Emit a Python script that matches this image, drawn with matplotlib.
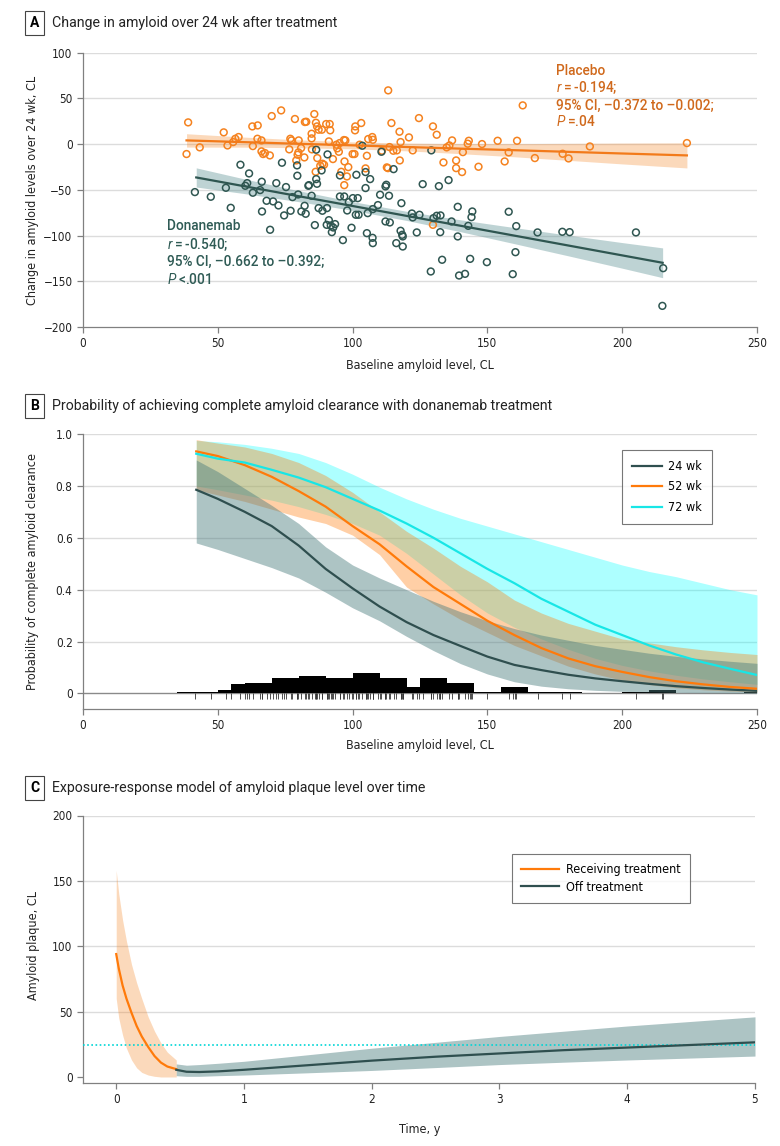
import matplotlib
matplotlib.use('Agg')
import matplotlib.pyplot as plt

plt.rcParams['mathtext.fontset'] = 'custom'
plt.rcParams['mathtext.rm'] = 'Roboto'
plt.rcParams['mathtext.it'] = 'Roboto:italic'
plt.rcParams['mathtext.bf'] = 'Roboto:bold'

TITLEF = ['Roboto', 'DejaVu Sans']
TICKF = dict(family='DejaVu Sans', stretch='condensed', size=8.5)

# ---------------- Panel A data ----------------
pl_bx = [39.0, 38.4, 43.3, 52.2, 53.6, 55.7, 56.5, 57.7, 62.8, 63.0, 64.7, 64.8, 66.2, 66.2, 66.8, 67.5,
         69.3, 70.0, 73.5, 76.5, 76.9, 77.3, 78.6, 79.1, 79.6, 80.0, 79.9, 80.9, 82.1, 82.3, 82.8, 84.8,
         84.8, 84.9, 85.8, 86.4, 86.8, 86.9, 87.4, 86.3, 88.0, 88.8, 89.4, 88.6, 90.2, 91.5, 91.7, 91.2,
         92.7, 94.0, 94.3, 94.9, 95.2, 95.8, 96.8, 97.3, 97.0, 97.9, 98.4, 96.9, 100.0, 100.7, 100.9, 101.0,
         102.6, 103.2, 104.8, 105.3, 105.8, 107.3, 107.5, 110.9, 112.7, 113.1, 113.2, 114.4, 113.7, 115.1,
         116.4, 117.4, 117.5, 117.8, 120.9, 122.3, 124.6, 129.8, 131.2, 133.7, 134.9, 135.9, 136.9, 138.4,
         138.4, 140.6, 140.9, 142.7, 143.1, 146.7, 148.0, 153.8, 157.9, 156.4, 161.0, 163.1, 167.6, 177.9,
         180.1, 188.0, 224.0, 129.8]
pl_chg = [23.7, -10.9, -3.6, 12.8, -1.5, 2.2, 5.8, 7.7, 19.3, -2.2, 5.8, 20.4, 4.0, -8.0, -10.9, -9.8,
          -12.4, 30.6, 36.8, -5.8, 5.8, 4.0, 27.4, -17.9, -11.7, 4.0, -9.1, -4.4, -14.6, 24.1, 24.4, 11.3,
          6.2, -5.8, 32.8, 23.3, 19.3, -15.3, 15.7, -30.3, -23.7, -21.5, -22.6, 15.7, 21.9, 21.9, 15.0, 2.9,
          -16.4, -0.7, -4.7, -8.4, 1.1, -30.3, 4.4, 4.0, -19.0, -35.4, -25.2, -44.9, -10.9, -10.9, 15.0, 19.3,
          -0.7, 23.0, -26.6, -12.8, 5.5, 7.7, 4.7, -7.3, -25.5, -26.3, 58.7, 23.0, -3.3, -7.3,
          -6.9, 13.5, -17.9, 2.2, 7.3, -6.9, 28.4, 19.3, 10.2, -20.1, -3.6, -1.5, 4.0, -17.9,
          -26.3, -30.6, -8.8, 0.4, 3.6, -24.8, 0.0, 3.6, -9.1, -19.0, 3.6, 42.3, -15.3, -10.6,
          -15.7, -2.6, 1.1, -88.3]

dn_bx = [41.5, 47.4, 53.0, 54.8, 58.4, 60.2, 60.9, 61.6, 63.0, 65.7, 66.3, 66.4, 68.1, 69.4, 70.5, 71.7,
         72.5, 73.8, 74.6, 75.3, 77.0, 77.7, 79.4, 79.5, 79.8, 81.0, 82.2, 82.6, 83.6, 83.8, 84.8, 86.0,
         86.5, 86.5, 86.8, 87.4, 88.5, 88.8, 90.4, 90.5, 90.7, 91.2, 91.9, 92.3, 92.8, 93.5, 95.3, 95.3,
         96.4, 96.9, 98.0, 98.6, 99.6, 100.1, 101.2, 101.4, 101.9, 102.2, 103.6, 104.8, 104.8, 105.3, 105.6,
         106.5, 107.5, 107.4, 107.5, 109.4, 110.2, 110.7, 112.2, 112.2, 112.5, 113.8, 113.5, 115.2, 116.2,
         117.8, 118.1, 118.4, 118.6, 118.6, 122.0, 122.3, 123.8, 124.8, 129.2, 126.0, 132.0, 135.6, 129.0,
         133.2, 130.0, 131.2, 132.6, 132.5, 136.7, 139.0, 139.0, 139.5, 141.7, 142.9, 143.6, 144.1, 144.4,
         149.8, 157.9, 159.4, 160.4, 160.7, 168.6, 177.8, 180.5, 205.1, 215.2, 214.9]
dn_chg = [-52.5, -57.6, -47.8, -69.7, -22.6, -45.6, -42.7, -32.1, -53.2, -50.3, -41.2, -73.7, -62.0, -93.7,
          -62.7, -42.7, -67.1, -20.4, -78.0, -47.0, -72.9, -58.0, -23.3, -34.6, -55.1, -73.7, -67.5, -76.2,
          -45.6, -44.9, -56.5, -88.6, -6.2, -38.3, -43.4, -70.0, -28.8, -72.9, -88.3, -70.0, -11.3, -83.2,
          -89.0, -96.3, -91.2, -87.5, -34.3, -57.3, -105.0, -57.3, -72.6, -63.5, -91.5, -59.1, -77.3, -33.6,
          -59.1, -77.3, -1.8, -48.1, -30.6, -97.4, -75.5, -38.3, -71.1, -102.5, -108.3, -66.7, -55.4, -8.4,
          -46.3, -84.6, -44.5, -85.7, -56.5, -27.4, -108.3, -94.8, -64.6, -99.2, -112.0, -101.0, -75.9, -80.2,
          -96.6, -77.3, -6.9, -43.8, -46.0, -39.4, -139.3, -126.5, -81.0, -78.4, -78.0, -96.3, -84.6, -68.6,
          -101.0, -143.7, -141.9, -89.4, -125.5, -79.9, -73.7, -129.1, -74.0, -142.2, -118.2, -89.7, -96.6,
          -95.9, -96.3, -96.6, -135.7, -176.9]

pl_fx = [38.4, 60, 80, 100, 120, 140, 160, 180, 200, 224]
pl_fit = [4.0, 2.1, 0.3, -1.4, -3.2, -5.0, -6.7, -8.5, -10.3, -12.4]
pl_lo = [-3.3, -3.4, -4.0, -5.2, -7.4, -10.5, -13.9, -17.8, -21.7, -26.1]
pl_hi = [11.3, 7.6, 4.6, 2.4, 1.0, 0.5, 0.5, 0.8, 1.1, 1.3]

dn_fx = [42, 60, 80, 100, 120, 140, 160, 180, 200, 215]
dn_fit = [-36.5, -46.2, -57.0, -67.7, -78.5, -89.3, -100.1, -110.9, -121.7, -129.8]
dn_lo = [-47.0, -54.2, -63.0, -72.5, -83.5, -95.8, -108.9, -122.2, -135.7, -146.1]
dn_hi = [-26.0, -38.2, -51.0, -62.9, -73.5, -82.8, -91.3, -99.6, -107.7, -113.5]

# ---------------- Panel B data ----------------
pb_x = [42, 50, 60, 70, 80, 90, 100, 110, 120, 130, 140, 150, 160, 170, 180, 190, 200, 210, 220, 230, 240, 250]
p24 = [0.785, 0.75, 0.70, 0.645, 0.57, 0.48, 0.405, 0.335, 0.275, 0.225, 0.183, 0.142, 0.11, 0.09, 0.072,
       0.058, 0.047, 0.037, 0.028, 0.021, 0.015, 0.01]
p24_lo = [0.58, 0.555, 0.52, 0.485, 0.445, 0.39, 0.33, 0.28, 0.22, 0.165, 0.115, 0.075, 0.045, 0.028, 0.018,
          0.012, 0.008, 0.006, 0.004, 0.003, 0.002, 0.001]
p24_hi = [0.90, 0.855, 0.79, 0.725, 0.655, 0.565, 0.495, 0.445, 0.40, 0.355, 0.315, 0.28, 0.25, 0.225, 0.205,
          0.185, 0.17, 0.155, 0.143, 0.133, 0.124, 0.116]
p52 = [0.933, 0.915, 0.88, 0.835, 0.78, 0.72, 0.645, 0.575, 0.49, 0.41, 0.345, 0.28, 0.225, 0.175, 0.135,
       0.105, 0.083, 0.063, 0.047, 0.035, 0.025, 0.018]
p52_lo = [0.785, 0.765, 0.74, 0.71, 0.68, 0.655, 0.61, 0.535, 0.41, 0.345, 0.285, 0.235, 0.185, 0.145,
          0.105, 0.075, 0.051, 0.034, 0.022, 0.014, 0.009, 0.006]
p52_hi = [0.978, 0.965, 0.95, 0.925, 0.89, 0.84, 0.775, 0.70, 0.625, 0.56, 0.49, 0.43, 0.36, 0.31, 0.27,
          0.24, 0.21, 0.195, 0.18, 0.168, 0.158, 0.15]
p72 = [0.924, 0.905, 0.89, 0.862, 0.832, 0.795, 0.75, 0.705, 0.655, 0.60, 0.54, 0.48, 0.425, 0.365, 0.315,
       0.265, 0.225, 0.185, 0.15, 0.12, 0.095, 0.071]
p72_lo = [0.80, 0.785, 0.765, 0.745, 0.72, 0.69, 0.655, 0.61, 0.54, 0.46, 0.38, 0.31, 0.255, 0.21, 0.17,
          0.135, 0.108, 0.087, 0.07, 0.056, 0.045, 0.035]
p72_hi = [0.975, 0.97, 0.96, 0.945, 0.925, 0.89, 0.845, 0.795, 0.75, 0.71, 0.675, 0.645, 0.615, 0.585, 0.555,
          0.525, 0.495, 0.47, 0.45, 0.425, 0.40, 0.38]

hist_left = [35, 40, 45, 50, 55, 60, 65, 70, 75, 80, 85, 90, 95, 100, 105, 110, 115, 120, 125, 130, 135,
             140, 145, 150, 155, 160, 165, 170, 175, 180, 200, 205, 210, 215, 245]
hist_h = [0.0064, 0.0064, 0.0064, 0.015, 0.035, 0.042, 0.042, 0.058, 0.058, 0.068, 0.068, 0.059, 0.059,
          0.077, 0.077, 0.059, 0.059, 0.024, 0.058, 0.058, 0.042, 0.042, 0.0064, 0.0064, 0.023, 0.023,
          0.0064, 0.0064, 0.0064, 0.0064, 0.0064, 0.0064, 0.015, 0.015, 0.0064]

# ---------------- Panel C data ----------------
on_t = [0, 0.02, 0.05, 0.08, 0.12, 0.16, 0.2, 0.25, 0.3, 0.35, 0.4, 0.47]
on_cl = [94, 83, 70, 60, 49, 39, 31, 23, 16, 11, 8, 6]
on_hi = [158, 140, 120, 104, 86, 72, 60, 46, 35, 26, 19, 13]
on_lo = [60, 45, 32, 22, 13, 7, 3.5, 1.5, 0.5, 0, 0, 0]
off_t = [0.47, 0.55, 0.65, 0.8, 1.0, 1.5, 2.0, 2.5, 3.0, 3.5, 4.0, 4.5, 5.0]
off_cl = [5.5, 4.0, 3.8, 4.3, 5.5, 9.0, 12.5, 15.5, 18.0, 20.5, 22.5, 24.5, 26.5]
off_hi = [10, 9, 9.5, 10.5, 12, 17, 22, 26.5, 31, 35, 39, 42.5, 46]
off_lo = [1, 0.5, 0.5, 1.0, 1.5, 3.2, 5, 7.2, 9.5, 11.3, 13, 14.5, 16]
threshold = 24.1

ORANGE = '#F5821F'
DARK = '#2F5651'
GRID = '#DCDCDC'
SPINE = '#808080'

fig = plt.figure(figsize=(7.8, 11.46), dpi=100)
W, H = 780.0, 1146.0


def style_axes(ax):
    for s in ['top', 'right']:
        ax.spines[s].set_visible(False)
    for s in ['left', 'bottom']:
        ax.spines[s].set_color(SPINE)
        ax.spines[s].set_linewidth(0.9)
    ax.tick_params(colors=SPINE, length=4, width=0.9, labelcolor='#222222')
    for lab in ax.get_xticklabels() + ax.get_yticklabels():
        lab.set_fontfamily(TICKF['family'])
        lab.set_fontstretch(TICKF['stretch'])
        lab.set_fontsize(TICKF['size'])


def panel_title(letter, text, ypx):
    y = 1 - ypx / H
    fig.text(34.5 / W, y, letter, ha='center', va='center', fontsize=10, weight='bold',
             family=TITLEF, bbox=dict(boxstyle='square,pad=0.35', fc='white', ec='#444444', lw=0.8))
    fig.text(52 / W, y, text, ha='left', va='center', fontsize=10.2, family=TITLEF, color='#222222')


def axis_labels(xlabel, xpy, ylabel, ycy):
    fig.text(420 / W, 1 - xpy / H, xlabel, ha='center', va='center', fontsize=9,
             family='DejaVu Sans', stretch='condensed', color='#222222')
    fig.text(33 / W, 1 - ycy / H, ylabel, ha='center', va='center', rotation=90, fontsize=9,
             family='DejaVu Sans', stretch='condensed', color='#222222')


# ---------------- Panel A ----------------
axA = fig.add_axes([83 / W, 1 - 327 / H, 674 / W, (327 - 52.6) / H])
axA.set_xlim(0, 250)
axA.set_ylim(-200, 100)
axA.set_yticks([-200, -150, -100, -50, 0, 50, 100])
axA.set_xticks([0, 50, 100, 150, 200, 250])
for yv in [-150, -100, -50, 0, 50, 100]:
    axA.axhline(yv, color=GRID, lw=1.0, zorder=0)
axA.fill_between(pl_fx, pl_lo, pl_hi, color=ORANGE, alpha=0.3, lw=0, zorder=1)
axA.fill_between(dn_fx, dn_lo, dn_hi, color='#5E9395', alpha=0.4, lw=0, zorder=1)
axA.scatter(pl_bx, pl_chg, s=24, facecolors='none', edgecolors=ORANGE, linewidths=1.1, zorder=3)
axA.scatter(dn_bx, dn_chg, s=24, facecolors='none', edgecolors=DARK, linewidths=1.1, zorder=3)
axA.plot(pl_fx, pl_fit, color='#F27A1A', lw=1.6, zorder=4)
axA.plot(dn_fx, dn_fit, color=DARK, lw=1.6, zorder=4)
style_axes(axA)

PLC = '#D0691C'
for txt, yv in zip(['Placebo', '$\\mathit{r}$\u2009=\u2009-0.194;', '95% CI, \u20130.372 to \u20130.002;',
                    '$\\mathit{P}$\u2009=.04'], [80.2, 61.6, 41.9, 24.4]):
    axA.text(175.6, yv, txt, ha='left', va='center', fontsize=9.8, family=TITLEF, color=PLC,
             weight='medium', zorder=5)
DNC = '#2F5B55'
for txt, yv in zip(['Donanemab', '$\\mathit{r}$\u2009=\u2009-0.540;', '95% CI, \u20130.662 to \u20130.392;',
                    '$\\mathit{P}$\u2009<.001'], [-90.1, -109.4, -128.8, -147.7]):
    axA.text(31.1, yv, txt, ha='left', va='center', fontsize=9.8, family=TITLEF, color=DNC,
             weight='medium', zorder=5)

panel_title('A', 'Change in amyloid over 24 wk after treatment', 23)
axis_labels('Baseline amyloid level, CL', 365, 'Change in amyloid levels over 24 wk, CL', 190)

# ---------------- Panel B ----------------
axB = fig.add_axes([83 / W, 1 - 709 / H, 674 / W, (709 - 434) / H])
axB.set_xlim(0, 250)
axB.set_ylim(-0.06, 1.0)
axB.set_xticks([0, 50, 100, 150, 200, 250])
axB.set_yticks([0, 0.2, 0.4, 0.6, 0.8, 1.0])
axB.set_yticklabels(['0', '0.2', '0.4', '0.6', '0.8', '1.0'])
for yv in [0.2, 0.4, 0.6, 0.8, 1.0]:
    axB.axhline(yv, color=GRID, lw=1.0, zorder=0)
axB.axhline(0, color='#8a8a8a', lw=1.0, zorder=1)
axB.bar(hist_left, hist_h, width=5, align='edge', color='black', lw=0, zorder=2)
axB.vlines(dn_bx, -0.022, 0, color='#333333', lw=0.6, zorder=2)
axB.fill_between(pb_x, p72_lo, p72_hi, color='#00FFFF', alpha=0.32, lw=0, zorder=3)
axB.fill_between(pb_x, p52_lo, p52_hi, color='#FF7F0E', alpha=0.37, lw=0, zorder=3)
axB.fill_between(pb_x, p24_lo, p24_hi, color='#4A7C7E', alpha=0.45, lw=0, zorder=3)
axB.plot(pb_x, p24, color='#2F4F4F', lw=1.6, zorder=5, label='24 wk')
axB.plot(pb_x, p52, color='#FF7A0A', lw=1.6, zorder=5, label='52 wk')
axB.plot(pb_x, p72, color='#18E6E6', lw=1.6, zorder=5, label='72 wk')
style_axes(axB)
legB = axB.legend(loc='upper right', bbox_to_anchor=((712 - 83) / 674, (709 - 450) / 275), borderaxespad=0,
                  frameon=True, fancybox=False, edgecolor='#555555', handlelength=2.4, handletextpad=0.5,
                  borderpad=0.8, labelspacing=0.6,
                  prop=dict(family='DejaVu Sans', stretch='condensed', size=9))
legB.get_frame().set_linewidth(0.8)

panel_title('B', 'Probability of achieving complete amyloid clearance with donanemab treatment', 406)
axis_labels('Baseline amyloid level, CL', 745, 'Probability of complete amyloid clearance', 572)

# ---------------- Panel C ----------------
axC = fig.add_axes([83 / W, 1 - 1083 / H, 672 / W, (1083 - 815.5) / H])
axC.set_xlim(-0.26, 5)
axC.set_ylim(-4.6, 200)
axC.set_xticks([0, 1, 2, 3, 4, 5])
axC.set_yticks([0, 50, 100, 150, 200])
for yv in [50, 100, 150, 200]:
    axC.axhline(yv, color=GRID, lw=1.0, zorder=0)
axC.fill_between(on_t, on_lo, on_hi, color=ORANGE, alpha=0.3, lw=0, zorder=2)
axC.fill_between(off_t, off_lo, off_hi, color='#4A7C7E', alpha=0.45, lw=0, zorder=2)
axC.axhline(threshold, color='#00D5D5', lw=1.2, ls=(0, (1, 1.5)), zorder=3)
axC.plot(on_t, on_cl, color='#FF7A0A', lw=1.6, zorder=4, label='Receiving treatment')
axC.plot(off_t, off_cl, color='#2F4F4F', lw=1.6, zorder=4, label='Off treatment')
style_axes(axC)
legC = axC.legend(loc='upper left', bbox_to_anchor=((512 - 83) / 672, (1083 - 854) / 267.5), borderaxespad=0,
                  frameon=True, fancybox=False, edgecolor='#555555', handlelength=3.0, handletextpad=0.6,
                  borderpad=0.75, labelspacing=0.35,
                  prop=dict(family='DejaVu Sans', stretch='condensed', size=9))
legC.get_frame().set_linewidth(0.8)

panel_title('C', 'Exposure-response model of amyloid plaque level over time', 788)
fig.text(420 / W, 1 - 1130 / H, 'Time, y', ha='center', va='center', fontsize=9,
         family='DejaVu Sans', stretch='condensed', color='#222222')
fig.text(33 / W, 1 - 945 / H, 'Amyloid plaque, CL', ha='center', va='center', rotation=90, fontsize=9,
         family='DejaVu Sans', stretch='condensed', color='#222222')

fig.savefig('out.png', dpi=100, facecolor='white')
